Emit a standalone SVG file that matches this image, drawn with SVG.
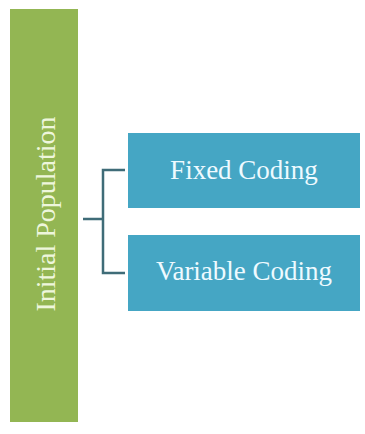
<svg xmlns="http://www.w3.org/2000/svg" width="365" height="434" viewBox="0 0 365 434">
<style>
.lbl{font-family:"Liberation Serif","Times New Roman",serif;font-size:27px;text-anchor:middle;dominant-baseline:central}
.box{fill:#45a6c4}
.conn{fill:none;stroke:#3f6c78;stroke-width:2.5}
</style>
<rect width="365" height="434" fill="#ffffff"/>
<g id="initial-population">
<rect x="10" y="9" width="68" height="413" fill="#93b653"/>
<text class="lbl" x="45" y="214" fill="#eef6dc" style="font-size:28px" transform="rotate(-90 45 214)">Initial Population</text>
</g>
<g id="connectors">
<path class="conn" d="M83 219H103M125 170H103V273H125"/>
</g>
<g id="fixed-coding">
<rect class="box" x="128" y="133" width="232" height="75"/>
<text class="lbl" x="244" y="170" fill="#eefaff">Fixed Coding</text>
</g>
<g id="variable-coding">
<rect class="box" x="128" y="235" width="232" height="76"/>
<text class="lbl" x="244" y="271" fill="#eefaff">Variable Coding</text>
</g>
</svg>
